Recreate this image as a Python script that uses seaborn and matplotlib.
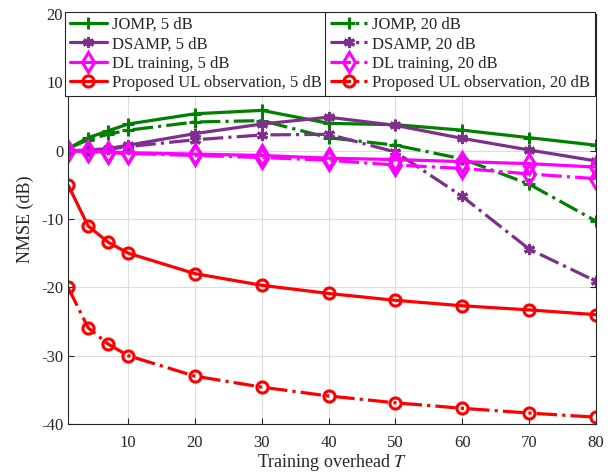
import numpy as np
import pandas as pd
import matplotlib
matplotlib.use('Agg')
import matplotlib.pyplot as plt
import seaborn as sns
from matplotlib.lines import Line2D

T = [1, 4, 7, 10, 20, 30, 40, 50, 60, 70, 80]

jomp_5 = [0.3, 1.9, 2.9, 3.9, 5.4, 5.9, 4.0, 3.8, 3.0, 1.9, 0.8]
jomp_20 = [0.3, 1.6, 2.4, 3.0, 4.2, 4.4, 1.9, 0.8, -1.2, -4.9, -10.3]
dsamp_5 = [0.0, 0.1, 0.3, 0.8, 2.5, 3.9, 4.9, 3.7, 1.8, 0.1, -1.5]
dsamp_20 = [0.0, 0.0, 0.2, 0.6, 1.6, 2.3, 2.4, -0.2, -6.7, -14.4, -19.1]
dl_5 = [0.0, -0.1, -0.2, -0.3, -0.5, -0.7, -1.1, -1.3, -1.6, -1.9, -2.4]
dl_20 = [0.0, -0.1, -0.3, -0.4, -0.7, -1.0, -1.4, -2.1, -2.6, -3.4, -4.1]
prop_5 = [-5.0, -11.0, -13.4, -15.0, -18.0, -19.7, -20.9, -21.9, -22.7, -23.3, -24.0]
prop_20 = [-20.0, -25.9, -28.3, -30.0, -33.0, -34.6, -35.9, -36.9, -37.7, -38.4, -39.0]

labels = ['JOMP, 5 dB', 'JOMP, 20 dB', 'DSAMP, 5 dB', 'DSAMP, 20 dB',
          'DL training, 5 dB', 'DL training, 20 dB',
          'Proposed UL observation, 5 dB', 'Proposed UL observation, 20 dB']

sns.set_style('ticks')
plt.rcParams['font.family'] = ['Liberation Serif', 'DejaVu Serif']
plt.rcParams['mathtext.fontset'] = 'stix'
plt.rcParams['axes.unicode_minus'] = False

green = '#008000'
purple = '#7E2F8E'
magenta = '#FF00FF'
red = '#FF0000'
asterisk = (6, 2, 0)

series = [
    (jomp_5, labels[0], green, '-', '+', 9),
    (jomp_20, labels[1], green, '-.', '+', 9),
    (dsamp_5, labels[2], purple, '-', asterisk, 8),
    (dsamp_20, labels[3], purple, '-.', asterisk, 8),
    (dl_5, labels[4], magenta, '-', 'd', 10),
    (dl_20, labels[5], magenta, '-.', 'd', 10),
    (prop_5, labels[6], red, '-', 'o', 8),
    (prop_20, labels[7], red, '-.', 'o', 8),
]

fig = plt.figure(figsize=(6.1, 4.72), dpi=100)
ax = fig.add_axes([0.1115, 0.1017, 0.8655, 0.8686])

for vals, lab, col, ls, mk, ms in series:
    df = pd.DataFrame({'T': T, 'NMSE': vals})
    sns.lineplot(data=df, x='T', y='NMSE', ax=ax, color=col, linestyle=ls,
                 linewidth=2.3, marker=mk, markersize=ms, markeredgewidth=2.2,
                 markerfacecolor='none', markeredgecolor=col, label=lab)

ax.set_xlim(1, 80)
ax.set_ylim(-40, 20)
ax.set_xticks([10, 20, 30, 40, 50, 60, 70, 80])
ax.set_yticks([-40, -30, -20, -10, 0, 10, 20])
ax.grid(True, color='#dddddd', linewidth=0.8)
ax.tick_params(direction='in', top=True, right=True, labelsize=12, length=4)
ax.tick_params(axis='x', pad=8)
for s in ax.spines.values():
    s.set_color('#262626')
    s.set_linewidth(0.8)
ax.set_xlabel('Training overhead $T$', fontsize=13, labelpad=1)
ax.set_ylabel('NMSE (dB)', fontsize=13, labelpad=5)

handles, labs = ax.get_legend_handles_labels()
order = [0, 2, 4, 6, 1, 3, 5, 7]
x0, x1 = 65 / 610, 595 / 610
ytop = 1 - 12 / 472
leg = ax.legend([handles[i] for i in order], [labs[i] for i in order],
                ncol=2, loc='upper left',
                bbox_to_anchor=(x0, ytop, x1 - x0, 0),
                bbox_transform=fig.transFigure,
                mode='expand', fontsize=12, frameon=True, fancybox=False,
                edgecolor='#262626', framealpha=1, borderaxespad=0,
                handlelength=2.2, handletextpad=0.3, labelspacing=0.2,
                borderpad=0.3, columnspacing=1.0)
leg.get_frame().set_linewidth(0.8)

fig.canvas.draw()
bb = leg.get_window_extent().transformed(fig.transFigure.inverted())
xd = 325 / 610
fig.add_artist(Line2D([xd, xd], [bb.y0, bb.y1], transform=fig.transFigure,
                      color='#262626', linewidth=0.8, zorder=10))

fig.savefig('out.png', dpi=100)
